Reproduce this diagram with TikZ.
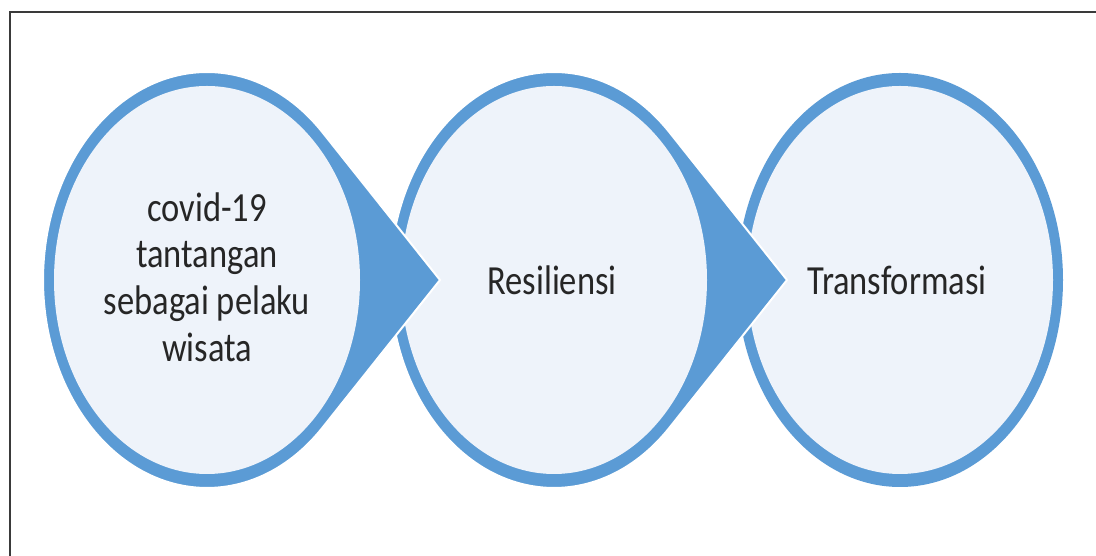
\documentclass[tikz,border=0pt]{standalone}
\usepackage{fontspec}
\setmainfont{Carlito}
\definecolor{dropblue}{HTML}{5B9BD5}
\definecolor{dropfill}{HTML}{EEF3FA}
\definecolor{framegray}{HTML}{3A3A3A}
\definecolor{inktext}{HTML}{262626}
\tikzset{
  % circle with a pointed tip to the right
  dropshape/.pic={
    \fill[dropblue, draw=white, line width=2]
      (233,0) -- (45.6:164 and 208)
      arc[start angle=45.6, end angle=314.4, x radius=164, y radius=208] -- cycle;
    \fill[dropfill] (0,0) ellipse[x radius=153, y radius=194];
  },
  % last step: plain ring
  ringshape/.pic={
    \fill[dropblue] (0,0) ellipse[x radius=163, y radius=207];
    \fill[dropfill] (0,0) ellipse[x radius=153, y radius=194];
  },
  lbl/.style={text=inktext, align=center, inner sep=0pt,
    font=\fontsize{34.5}{39}\selectfont}
}
\newcommand{\tall}[1]{\scalebox{1}[1.2]{#1}}
\begin{document}
\begin{tikzpicture}[x=1pt, y=1pt]
  \useasboundingbox (0,0) rectangle (1096,556);
  \clip (0,0) rectangle (1096,556);
  \fill[white] (0,0) rectangle (1096,556);
  \draw[framegray, line width=2] (10,-20) rectangle (1120,544);

  \coordinate (c1) at (207,276);
  \coordinate (c2) at (554,276);
  \coordinate (c3) at (900,276);

  % later shapes lie beneath the tip of the one before
  \pic at (c3) {ringshape};
  \pic at (c2) {dropshape};
  \pic at (c1) {dropshape};

  \node[lbl] (t1) at (207,274) {\tall{\begin{tabular}{@{}c@{}}covid-19\\tantangan\\sebagai pelaku\\wisata\end{tabular}}};
  \node[lbl] (t2) at (552,276) {\tall{Resiliensi}};
  \node[lbl] (t3) at (897,276) {\tall{Transformasi}};
\end{tikzpicture}
\end{document}
